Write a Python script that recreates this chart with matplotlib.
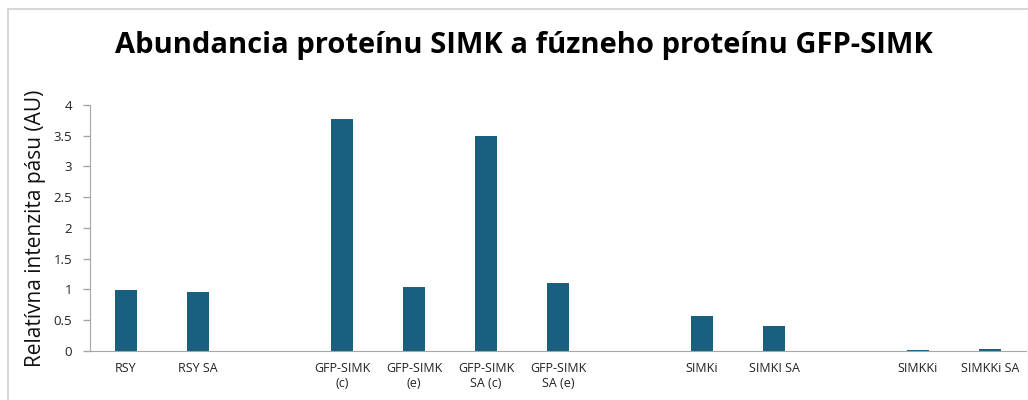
import matplotlib.pyplot as plt
import numpy as np
from matplotlib.patches import Rectangle

# vzorky, prazdne retazce su medzery medzi skupinami
labels = ["RSY", "RSY SA", "",
          "GFP-SIMK\n(c)", "GFP-SIMK\n(e)", "GFP-SIMK\nSA (c)", "GFP-SIMK\nSA (e)", "",
          "SIMKi", "SIMKI SA", "",
          "SIMKKi", "SIMKKi SA"]
values = [0.99, 0.955, np.nan,
          3.77, 1.03, 3.50, 1.11, np.nan,
          0.57, 0.40, np.nan,
          0.015, 0.03]
yticks = [0, 0.5, 1, 1.5, 2, 2.5, 3, 3.5, 4]
ytick_labels = ["0", "0.5", "1", "1.5", "2", "2.5", "3", "3.5", "4"]

plt.rcParams['font.family'] = ['Open Sans', 'DejaVu Sans']

fig = plt.figure(figsize=(10.28, 4.0), dpi=100)
ax = fig.add_axes([90/1028, 49.3/400, 936/1028, 245.7/400])

x = np.arange(len(labels))
ax.bar(x, values, width=0.315, color="#185f80")

ax.set_xlim(-0.5, len(labels) - 0.5)
ax.set_ylim(0, 4)
ax.set_xticks(x)
ax.set_xticklabels(labels, fontsize=9, color="#222222", linespacing=1.2)
ax.set_yticks(yticks)
ax.set_yticklabels(ytick_labels, fontsize=9.5, color="#222222")
ax.tick_params(axis="x", length=0, pad=8)
ax.tick_params(axis="y", length=5, width=1, color="#a6a6a6", pad=8)

for s in ["top", "right"]:
    ax.spines[s].set_visible(False)
ax.spines["left"].set_color("#a6a6a6")
ax.spines["bottom"].set_color("#a6a6a6")

ax.set_ylabel("Relatívna intenzita pásu (AU)", fontsize=15, color="#111111")
ax.yaxis.set_label_coords(-44/936, 0.5)

fig.text(524/1028, 355/400, "Abundancia proteínu SIMK a fúzneho proteínu GFP-SIMK",
         ha="center", va="center", fontsize=21, fontweight="bold", color="black")

# ramcek grafu
fig.patches.append(Rectangle((8/1028, -0.05), 1.2, (400 - 9)/400 + 0.05,
                             transform=fig.transFigure, fill=False,
                             edgecolor="#d0d0d0", linewidth=1.2))

fig.savefig("out.png", dpi=100)
